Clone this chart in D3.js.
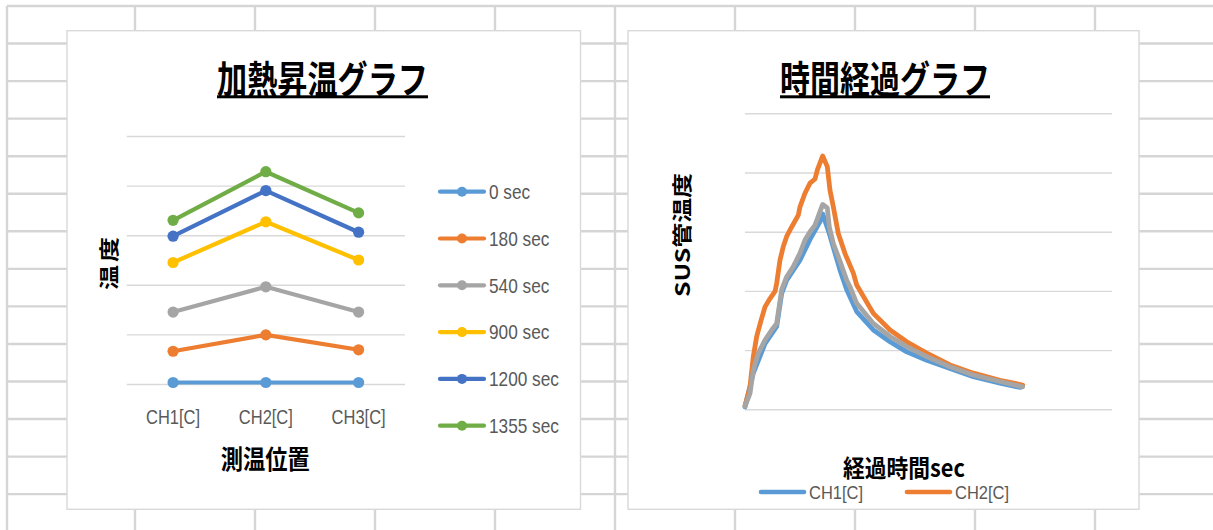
<!DOCTYPE html>
<html>
<head>
<meta charset="utf-8">
<script src="https://cdn.jsdelivr.net/npm/d3@7"></script>
<style>
  html, body { margin: 0; padding: 0; background: #ffffff; }
  svg { display: block; }
</style>
</head>
<body>
<svg id="sheet" width="1213" height="530"></svg>
<script>
// ---- heating chart: temperature at each measuring point, per elapsed time ----
const positions = ["CH1[C]", "CH2[C]", "CH3[C]"];
const heatLabels = ["0 sec", "180 sec", "540 sec", "900 sec", "1200 sec", "1355 sec"];
const temp0sec    = [3, 3, 3];
const temp180sec  = [66, 99, 69];
const temp540sec  = [145, 196, 145];
const temp900sec  = [245, 327, 250];
const temp1200sec = [298, 390, 306];
const temp1355sec = [330, 428, 345];
const tempTicks = [0, 100, 200, 300, 400, 500];

// ---- elapsed-time chart: SUS pipe temperature ----
const ch1Sec  = [0, 145, 349, 553, 640, 727, 959, 1134, 1308, 1355, 1470, 1657, 1774, 1948, 2238, 2529, 2820, 3169, 3575, 3982, 4447, 4800];
const ch1Temp = [4, 61, 111, 140, 196, 218, 252, 287, 317, 330, 297, 235, 202, 165, 134, 114, 97, 83, 69, 55, 44, 37];
const ch2Sec  = [0, 87, 145, 204, 274, 349, 436, 523, 553, 610, 668, 727, 814, 930, 959, 1046, 1134, 1221, 1261, 1355, 1435, 1482, 1540, 1627, 1744, 1889, 1948, 2238, 2529, 2820, 3169, 3575, 3982, 4447, 4843];
const ch2Temp = [6, 38, 89, 123, 148, 173, 187, 199, 213, 252, 275, 292, 308, 328, 342, 365, 382, 389, 404, 428, 410, 370, 342, 297, 263, 230, 210, 162, 134, 114, 95, 75, 61, 49, 41];
const ch3Sec  = [0, 87, 145, 232, 349, 466, 553, 640, 727, 842, 959, 1046, 1134, 1221, 1308, 1355, 1435, 1470, 1540, 1657, 1774, 1831, 1948, 2238, 2529, 2820, 3169, 3575, 3982, 4447, 4843];
const ch3Temp = [5, 27, 66, 95, 117, 134, 145, 202, 224, 241, 264, 286, 300, 311, 334, 346, 340, 308, 280, 250, 218, 207, 179, 145, 123, 106, 89, 72, 58, 47, 38];
const timeLegend = ["CH1[C]", "CH2[C]"];

const heatColors = ["#5B9BD5", "#ED7D31", "#A5A5A5", "#FFC000", "#4472C4", "#70AD47"];
const chColors = ["#5B9BD5", "#ED7D31", "#A5A5A5"];

const LATIN = "'Liberation Sans', Arial, sans-serif";
const CJK = "'Noto Sans CJK JP', 'Noto Sans CJK SC', sans-serif";

const svg = d3.select("#sheet");

// text squeezed horizontally to a given width (or a ratio of its natural width)
function addText(parent, o) {
  const t = parent.append("text")
    .attr("x", 0).attr("y", o.y)
    .attr("font-family", o.family || LATIN)
    .attr("font-size", o.size)
    .attr("font-weight", o.weight || 400)
    .attr("fill", o.fill || "#000")
    .text(o.text);
  const natural = t.node().getComputedTextLength();
  const w = o.width != null ? o.width : natural * (o.ratio || 0.82);
  t.attr("textLength", w).attr("lengthAdjust", "spacingAndGlyphs");
  const anchor = o.anchor || "start";
  t.attr("x", anchor === "middle" ? o.x - w / 2 : anchor === "end" ? o.x - w : o.x);
  return t;
}

// vertical axis title, read bottom to top
function addVText(parent, o) {
  const g = parent.append("g")
    .attr("transform", `translate(${o.cx},${o.cy}) scale(0.8,1) rotate(-90)`);
  g.append("text")
    .attr("x", -o.length / 2).attr("y", o.size * 0.38)
    .attr("font-family", CJK).attr("font-size", o.size).attr("font-weight", 700)
    .attr("fill", "#000")
    .attr("textLength", o.length).attr("lengthAdjust", "spacing")
    .text(o.text);
}

// ---- worksheet cell grid ----
const grid = svg.append("g").attr("stroke", "#d5d5d5").attr("stroke-width", 2.4);
const colLines = [7].concat(d3.range(135, 1213, 120));
const rowLines = d3.range(6, 540, 37.55);
grid.selectAll("line.col").data(colLines).join("line").attr("class", "col")
  .attr("x1", d => d).attr("x2", d => d).attr("y1", 6).attr("y2", 530);
grid.selectAll("line.row").data(rowLines).join("line").attr("class", "row")
  .attr("x1", 7).attr("x2", 1213).attr("y1", d => d).attr("y2", d => d);

// ---- chart frames ----
function frame(x, y, w, h) {
  svg.append("rect").attr("x", x).attr("y", y).attr("width", w).attr("height", h)
    .attr("fill", "#fff").attr("stroke", "#d9d9d9").attr("stroke-width", 1.4);
}
frame(67, 30.7, 513.5, 478.6);
frame(628, 30.7, 511, 478.6);

// ---- chart title with underline ----
function title(text, x0, width) {
  addText(svg, { text, x: x0, y: 92.5, size: 38, weight: 700, family: CJK, width });
  svg.append("rect").attr("x", x0).attr("y", 95.3).attr("width", width).attr("height", 3).attr("fill", "#000");
}

// =================== heating chart ===================
const heatSeries = [temp0sec, temp180sec, temp540sec, temp900sec, temp1200sec, temp1355sec];
const hx = d3.scalePoint().domain(positions).range([126.7, 405]).padding(0.5);
const hy = d3.scaleLinear().domain([0, 500]).range([384, 136]);

title("加熱昇温グラフ", 217, 211);

const hGrid = svg.append("g").attr("transform", "translate(126.7,0)")
  .call(d3.axisLeft(hy).tickValues(tempTicks).tickSize(-(405 - 126.7)).tickFormat(""));
hGrid.select(".domain").remove();
hGrid.selectAll("line").attr("stroke", "#d9d9d9").attr("stroke-width", 1.4);

const hLine = d3.line().x((d, i) => hx(positions[i])).y(d => hy(d));
heatSeries.forEach((vals, s) => {
  svg.append("path").attr("d", hLine(vals)).attr("fill", "none")
    .attr("stroke", heatColors[s]).attr("stroke-width", 4.2)
    .attr("stroke-linejoin", "round");
  svg.selectAll(null).data(vals).join("circle")
    .attr("cx", (d, i) => hx(positions[i])).attr("cy", d => hy(d)).attr("r", 5.6)
    .attr("fill", heatColors[s]);
});

positions.forEach(p => {
  addText(svg, { text: p, x: hx(p), y: 424, size: 21, fill: "#595959", anchor: "middle", width: 54 });
});
addText(svg, { text: "測温位置", x: 265.3, y: 469, size: 26, weight: 700, family: CJK, anchor: "middle", width: 89 });
addVText(svg, { text: "温度", cx: 109, cy: 263.5, size: 25, length: 53 });

// legend
heatLabels.forEach((lab, i) => {
  const y = 191.7 + i * 46.8;
  svg.append("line").attr("x1", 440).attr("x2", 484).attr("y1", y).attr("y2", y)
    .attr("stroke", heatColors[i]).attr("stroke-width", 4.2).attr("stroke-linecap", "round");
  svg.append("circle").attr("cx", 462).attr("cy", y).attr("r", 5).attr("fill", heatColors[i]);
  addText(svg, { text: lab, x: 489, y: y + 7.2, size: 21, fill: "#595959" });
});

// =================== elapsed-time chart ===================
const tx = d3.scaleLinear().domain([0, 6400]).range([745, 1112]);
const ty = d3.scaleLinear().domain([0, 500]).range([409.3, 113.3]);

title("時間経過グラフ", 780, 210);

const tGrid = svg.append("g").attr("transform", "translate(745,0)")
  .call(d3.axisLeft(ty).tickValues(tempTicks).tickSize(-(1112 - 745)).tickFormat(""));
tGrid.select(".domain").remove();
tGrid.selectAll("line").attr("stroke", "#d9d9d9").attr("stroke-width", 1.4);

const tLine = d3.line().x(d => tx(d[0])).y(d => ty(d[1]));
const chSeries = [
  d3.zip(ch1Sec, ch1Temp),
  d3.zip(ch2Sec, ch2Temp),
  d3.zip(ch3Sec, ch3Temp)
];
chSeries.forEach((pts, s) => {
  svg.append("path").attr("d", tLine(pts)).attr("fill", "none")
    .attr("stroke", chColors[s]).attr("stroke-width", 4.8)
    .attr("stroke-linejoin", "round").attr("stroke-linecap", "round");
});

addVText(svg, { text: "SUS管温度", cx: 682.5, cy: 235, size: 25, length: 124 });
addText(svg, { text: "経過時間sec", x: 904, y: 477, size: 24, weight: 700, family: CJK, anchor: "middle", width: 122 });

// legend
const legX = [759, 905];
timeLegend.forEach((lab, i) => {
  const y = 492;
  svg.append("line").attr("x1", legX[i] + 2).attr("x2", legX[i] + 45).attr("y1", y).attr("y2", y)
    .attr("stroke", chColors[i]).attr("stroke-width", 4.6).attr("stroke-linecap", "round");
  addText(svg, { text: lab, x: legX[i] + 50, y: y + 7.2, size: 19, fill: "#595959", width: 54 });
});
</script>
</body>
</html>
